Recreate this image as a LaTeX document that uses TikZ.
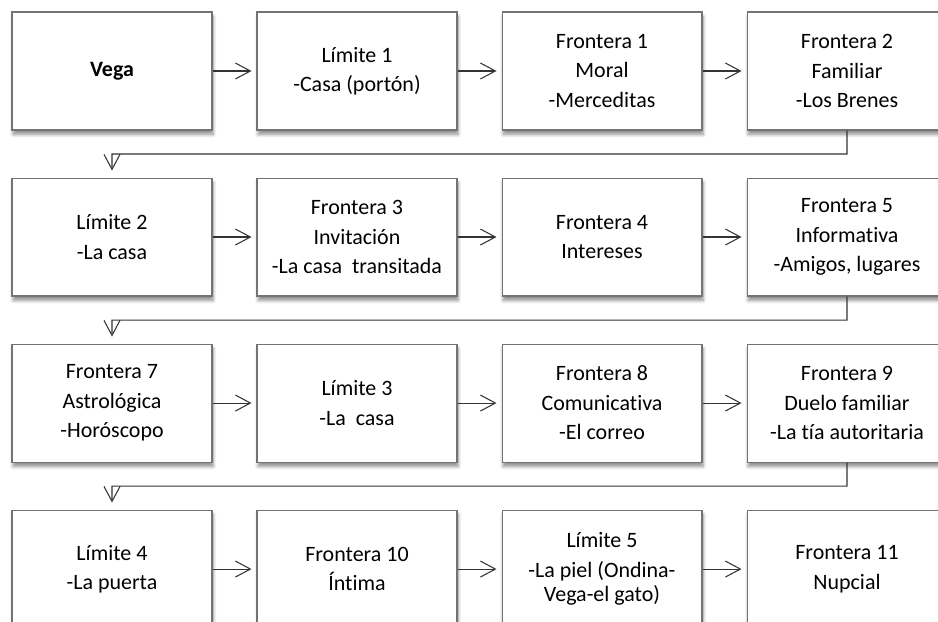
\documentclass[tikz,border=0pt]{standalone}
\usepackage{fontspec}
\setmainfont[Ligatures=NoCommon]{Carlito}
\usetikzlibrary{arrows.meta}
\usetikzlibrary{calc}
\usetikzlibrary{positioning}
\usetikzlibrary{shadows.blur}

\begin{document}
\begin{tikzpicture}[
  x=0.02cm, y=-0.02cm,
  > = {Straight Barb[length=0.3cm,width=0.32cm]},
  node distance = 0.94cm and 0.88cm,
  stage/.style = {draw=black!55, fill=white, line width=0.6pt,
    minimum width=4cm, minimum height=2.36cm, align=center,
    font=\fontsize{12.5}{16.8}\selectfont,
    blur shadow={shadow xshift=0.6pt, shadow yshift=-2.5pt, shadow blur steps=6, shadow opacity=45}},
  flow/.style = {->, draw=black!80, line width=0.6pt, shorten >=0.1cm},
  turn/.style = {->, draw=black!80, line width=0.6pt, shorten >=0.14cm}
  ]
	\clip (0,0) rectangle (938,622);

	% row 1
	\node[stage] (vega) at (112,71) {\textbf{Vega}};
	\node[stage, right=of vega] (lim1) {Límite 1\\-Casa (portón)};
	\node[stage, right=of lim1] (fr1) {Frontera 1\\Moral\\-Merceditas};
	\node[stage, right=of fr1] (fr2) {Frontera 2\\Familiar\\-Los Brenes};

	% row 2
	\node[stage, below=of vega] (lim2) {Límite 2\\-La casa};
	\node[stage, right=of lim2] (fr3) {Frontera 3\\Invitación\\-La casa~ transitada};
	\node[stage, right=of fr3] (fr4) {Frontera 4\\Intereses};
	\node[stage, right=of fr4] (fr5) {Frontera 5\\Informativa\\-Amigos, lugares};

	% row 3
	\node[stage, below=of lim2] (fr7) {Frontera 7\\Astrológica\\-Horóscopo};
	\node[stage, right=of fr7] (lim3) {Límite 3\\-La~ casa};
	\node[stage, right=of lim3] (fr8) {Frontera 8\\Comunicativa\\-El correo};
	\node[stage, right=of fr8] (fr9) {Frontera 9\\Duelo familiar\\-La tía autoritaria};

	% row 4
	\node[stage, below=of fr7] (lim4) {Límite 4\\-La puerta};
	\node[stage, right=of lim4] (fr10) {Frontera 10\\Íntima};
	\node[stage, right=of fr10] (lim5) {Límite 5\\-La piel (Ondina-\\[-0.1cm]Vega-el gato)};
	\node[stage, right=of lim5] (fr11) {Frontera 11\\Nupcial};

	\foreach \a/\b in {vega/lim1, lim1/fr1, fr1/fr2, lim2/fr3, fr3/fr4, fr4/fr5,
	                   fr7/lim3, lim3/fr8, fr8/fr9, lim4/fr10, fr10/lim5, lim5/fr11}
		\draw[flow] (\a) -- (\b);

	\foreach \a/\b in {fr2/lim2, fr5/fr7, fr9/lim4}
		\draw[turn] (\a.south) -- ($(\a.south)!0.5!(\a.south |- \b.north)$) -| (\b.north);

\end{tikzpicture}
\end{document}
